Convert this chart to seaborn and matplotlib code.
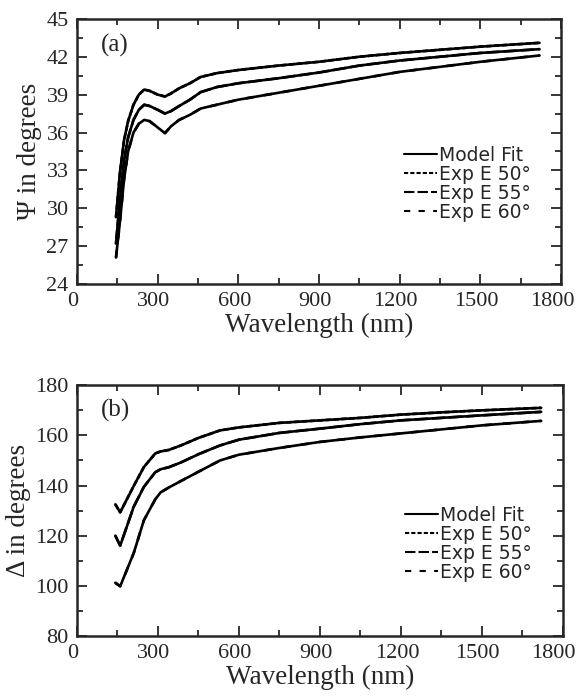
import numpy as np
import pandas as pd
import matplotlib
matplotlib.use("Agg")
import matplotlib.pyplot as plt
import matplotlib.transforms as mtransforms
from matplotlib.lines import Line2D
from matplotlib.ticker import MultipleLocator
import seaborn as sns

sns.set_style("ticks")
plt.rcParams["font.family"] = ["Liberation Serif", "DejaVu Serif"]

# ---- data ----
angles = ["50", "55", "60"]

wl_psi = [145, 160, 175, 190, 210, 230, 250, 270, 300, 327, 350, 380, 420, 460, 520, 600,
          750, 900, 1050, 1200, 1350, 1500, 1720]
psi_50 = [29.3, 32.9, 35.4, 36.9, 38.2, 39.0, 39.4, 39.3, 39.0, 38.85, 39.1, 39.5, 39.9, 40.4,
          40.7, 40.95, 41.3, 41.6, 42.0, 42.3, 42.55, 42.8, 43.1]
psi_55 = [27.2, 30.8, 33.8, 35.6, 37.0, 37.8, 38.2, 38.1, 37.8, 37.5, 37.7, 38.1, 38.6, 39.2,
          39.6, 39.9, 40.3, 40.75, 41.3, 41.7, 42.0, 42.3, 42.6]
psi_60 = [26.1, 29.0, 32.3, 34.5, 36.0, 36.7, 37.0, 36.9, 36.4, 35.95, 36.5, 37.0, 37.4, 37.9,
          38.2, 38.6, 39.15, 39.7, 40.25, 40.8, 41.2, 41.6, 42.1]

wl_delta = [142, 160, 210, 248, 290, 310, 340, 385, 450, 530, 600, 750, 900, 1050, 1200, 1350,
            1500, 1720]
delta_50 = [132.5, 129.3, 139.8, 147.4, 152.8, 153.6, 154.2, 156.0, 159.0, 162.0, 163.2, 165.0,
            166.0, 167.0, 168.3, 169.2, 170.0, 171.0]
delta_55 = [120.0, 116.0, 131.5, 139.5, 145.3, 146.5, 147.3, 149.2, 152.5, 156.0, 158.3, 161.0,
            162.7, 164.5, 166.0, 167.0, 168.0, 169.4]
delta_60 = [101.2, 99.8, 113.0, 126.2, 134.5, 137.3, 139.2, 141.8, 145.5, 150.0, 152.3, 155.0,
            157.4, 159.2, 160.8, 162.4, 164.0, 165.8]

legend_labels = ["Model Fit", "Exp E 50\u00b0", "Exp E 55\u00b0", "Exp E 60\u00b0"]


def to_long(wl, series):
    frames = []
    for ang, vals in zip(angles, series):
        frames.append(pd.DataFrame({"wl": wl, "val": vals, "angle": ang}))
    return pd.concat(frames, ignore_index=True)


df_psi = to_long(wl_psi, [psi_50, psi_55, psi_60])
df_delta = to_long(wl_delta, [delta_50, delta_55, delta_60])

exp_styles = {"50": (0, (2, 1)), "55": (0, (5, 1.5)), "60": (0, (3, 4))}
LW = 1.9

fig = plt.figure(figsize=(5.79, 6.98), dpi=100)
ax_a = fig.add_axes([0.133, 0.593, 0.836, 0.380])
ax_b = fig.add_axes([0.133, 0.089, 0.839, 0.359])


def draw_panel(ax, df):
    # model fit, drawn solid for every angle
    sns.lineplot(data=df, x="wl", y="val", units="angle", estimator=None,
                 color="black", lw=LW, ax=ax, legend=False)
    # measured curves, dashed on top
    for ang in angles:
        sub = df[df["angle"] == ang]
        sns.lineplot(data=sub, x="wl", y="val", color="black", lw=LW,
                     linestyle=exp_styles[ang], ax=ax, legend=False)


def style_axes(ax, ylim, ymaj, ymin, ylabel, tag):
    ax.set_xlim(0, 1800)
    ax.set_ylim(*ylim)
    ax.xaxis.set_major_locator(MultipleLocator(300))
    ax.xaxis.set_minor_locator(MultipleLocator(150))
    ax.yaxis.set_major_locator(MultipleLocator(ymaj))
    ax.yaxis.set_minor_locator(MultipleLocator(ymin))
    ax.tick_params(which="both", direction="in", top=True, right=True, width=1.3,
                   labelsize=16, pad=6)
    ax.tick_params(which="major", length=7)
    ax.tick_params(which="minor", length=4)
    for sp in ax.spines.values():
        sp.set_linewidth(1.8)
    ax.set_xlabel("Wavelength (nm)", fontsize=19.5, labelpad=1)
    ax.set_ylabel(ylabel, fontsize=19.5, labelpad=3)
    ax.text(0.05, 0.90, tag, transform=ax.transAxes, fontsize=18, va="center", ha="left")

    # x tick labels sit a little left of their ticks in the original
    for pos, lab in zip(ax.get_xticks(), ax.get_xticklabels()):
        dx = -9 if pos >= 1800 else -4
        shift = mtransforms.ScaledTranslation(dx / 100, 0, fig.dpi_scale_trans)
        lab.set_transform(lab.get_transform() + shift)

    handles = [Line2D([], [], color="black", lw=1.5, linestyle="-")]
    for ang in angles:
        handles.append(Line2D([], [], color="black", lw=1.5, linestyle=exp_styles[ang]))
    ax.legend(handles, legend_labels, loc="upper left", bbox_to_anchor=(0.66, 0.55),
              frameon=False, handlelength=1.75, handletextpad=0.1,
              labelspacing=0.0, borderaxespad=0,
              prop={"family": "DejaVu Sans", "size": 13.5})


draw_panel(ax_a, df_psi)
style_axes(ax_a, (24, 45), 3, 1.5, "\u03a8 in degrees", "(a)")

draw_panel(ax_b, df_delta)
style_axes(ax_b, (80, 180), 20, 10, "\u0394 in degrees", "(b)")

fig.savefig("out.png", dpi=100)
